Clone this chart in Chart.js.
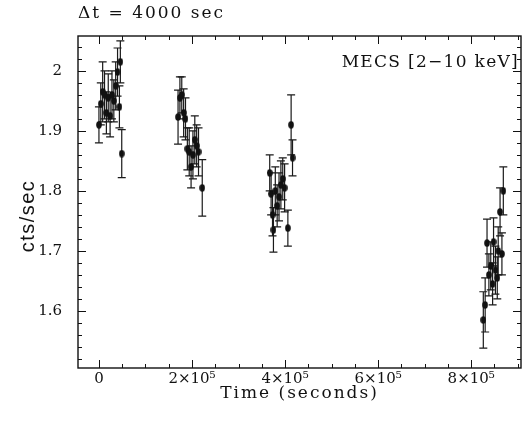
<!DOCTYPE html>
<html><head><meta charset="utf-8">
<script src="https://cdn.jsdelivr.net/npm/chart.js@4.4.1/dist/chart.umd.min.js"></script>
<style>html,body{margin:0;padding:0;background:#fff}#wrap{width:528px;height:421px;position:relative}</style>
</head><body><div id="wrap"><canvas id="c"></canvas></div>
<script>
// ---- data ----
const timeSec = [
  0, 4000, 8000, 12000, 16000, 20000, 24000, 28000, 32000, 36000, 40000, 44000, 46000, 49000,
  170000, 174000, 178000, 182000, 186000, 190000, 194000, 198000, 202000, 206000, 210000, 214000, 222000,
  367000, 370000, 373000, 375000, 379000, 383000, 387000, 391000, 395000, 399000, 406000, 413000, 416000,
  826000, 830000, 834000, 838000, 842000, 846000, 848000, 852000, 856000, 858000, 862000, 866000, 869000
];
const rate = [
  1.910, 1.945, 1.965, 1.960, 1.930, 1.955, 1.925, 1.960, 1.950, 1.975, 1.998, 1.940, 2.015, 1.862,
  1.923, 1.955, 1.960, 1.930, 1.920, 1.870, 1.865, 1.840, 1.860, 1.885, 1.875, 1.865, 1.805,
  1.830, 1.795, 1.760, 1.735, 1.800, 1.775, 1.790, 1.810, 1.820, 1.805, 1.738, 1.910, 1.855,
  1.585, 1.610, 1.713, 1.660, 1.675, 1.645, 1.715, 1.668, 1.655, 1.700, 1.765, 1.695, 1.800
];
const rateErr = [
  0.030, 0.035, 0.050, 0.040, 0.035, 0.040, 0.035, 0.040, 0.035, 0.040, 0.040, 0.035, 0.035, 0.040,
  0.045, 0.035, 0.030, 0.040, 0.035, 0.035, 0.040, 0.035, 0.040, 0.040, 0.035, 0.040, 0.047,
  0.030, 0.035, 0.035, 0.037, 0.040, 0.035, 0.040, 0.040, 0.035, 0.040, 0.030, 0.050, 0.030,
  0.047, 0.045, 0.040, 0.035, 0.040, 0.035, 0.040, 0.040, 0.035, 0.040, 0.040, 0.035, 0.040
];
const xMajorTicks = [0, 200000, 400000, 600000, 800000];
const xTickLabels = ['0', '2×10⁵', '4×10⁵', '6×10⁵', '8×10⁵'];
const yMajorTicks = [1.6, 1.7, 1.8, 1.9, 2.0];
const yTickLabels = ['1.6', '1.7', '1.8', '1.9', '2'];
const xMinorStep = 50000;
const yMinorStep = 0.02;
const titleText = 'Δt = 4000 sec';
const insetText = 'MECS [2−10 keV]';
const xAxisTitle = 'Time (seconds)';
const yAxisTitle = 'cts/sec';

const SERIF = '"DejaVu Serif", serif';

const points = timeSec.map((t, i) => ({x: t, y: rate[i], e: rateErr[i]}));

// filled, slightly tall ellipse used as the marker
const marker = document.createElement('canvas');
marker.width = 6; marker.height = 8;
(function () {
  const m = marker.getContext('2d');
  m.fillStyle = '#111';
  m.beginPath();
  m.ellipse(3, 4, 2.8, 3.7, 0, 0, Math.PI * 2);
  m.fill();
})();

const decorPlugin = {
  id: 'decor',
  beforeDatasetsDraw(chart) {
    const {ctx} = chart;
    const xs = chart.scales.x, ys = chart.scales.y;
    ctx.save();
    ctx.strokeStyle = '#1a1a1a';
    ctx.lineWidth = 1.2;
    const cap = 4;
    points.forEach(p => {
      const px = xs.getPixelForValue(p.x);
      const y1 = ys.getPixelForValue(p.y - p.e);
      const y2 = ys.getPixelForValue(p.y + p.e);
      ctx.beginPath();
      ctx.moveTo(px, y1); ctx.lineTo(px, y2);
      ctx.moveTo(px - cap, y1); ctx.lineTo(px + cap, y1);
      ctx.moveTo(px - cap, y2); ctx.lineTo(px + cap, y2);
      ctx.stroke();
    });
    ctx.restore();
  },
  afterDraw(chart) {
    const {ctx, chartArea: a} = chart;
    const xs = chart.scales.x, ys = chart.scales.y;
    ctx.save();
    ctx.strokeStyle = '#111';
    ctx.lineWidth = 1.4;
    ctx.strokeRect(a.left, a.top, a.right - a.left, a.bottom - a.top);
    ctx.lineWidth = 1;
    const maj = 8, mnr = 4;
    ctx.beginPath();
    for (let v = Math.ceil(xs.min / xMinorStep) * xMinorStep; v <= xs.max; v += xMinorStep) {
      const px = Math.round(xs.getPixelForValue(v)) + 0.5;
      const len = xMajorTicks.some(m => Math.abs(m - v) < 1) ? maj : mnr;
      ctx.moveTo(px, a.bottom); ctx.lineTo(px, a.bottom - len);
      ctx.moveTo(px, a.top); ctx.lineTo(px, a.top + len);
    }
    for (let v = Math.ceil(ys.min / yMinorStep - 1e-6) * yMinorStep; v <= ys.max + 1e-9; v += yMinorStep) {
      const py = Math.round(ys.getPixelForValue(v)) + 0.5;
      const len = yMajorTicks.some(m => Math.abs(m - v) < 1e-6) ? maj : mnr;
      ctx.moveTo(a.left, py); ctx.lineTo(a.left + len, py);
      ctx.moveTo(a.right, py); ctx.lineTo(a.right - len, py);
    }
    ctx.stroke();

    ctx.fillStyle = '#111';
    ctx.textBaseline = 'middle';
    ctx.font = '17px ' + SERIF;
    ctx.letterSpacing = '2px';
    ctx.textAlign = 'left';
    ctx.fillText(titleText, a.left, 14);
    ctx.letterSpacing = '1.3px';
    ctx.textAlign = 'right';
    ctx.fillText(insetText, a.right - 2, 63);
    ctx.letterSpacing = '2px';
    ctx.textAlign = 'center';
    ctx.fillText(xAxisTitle, (a.left + a.right) / 2, 394);
    ctx.save();
    ctx.translate(28, 216);
    ctx.rotate(-Math.PI / 2);
    ctx.font = '20px "Liberation Sans", Arial, sans-serif';
    ctx.letterSpacing = '1.5px';
    ctx.fillText(yAxisTitle, 0, 0);
    ctx.restore();
    ctx.restore();
  }
};

new Chart(document.getElementById('c'), {
  type: 'scatter',
  data: {
    datasets: [{
      data: points,
      showLine: false,
      pointStyle: marker,
      pointRadius: 3,
      pointHoverRadius: 3,
      backgroundColor: '#111',
      borderWidth: 0
    }]
  },
  options: {
    responsive: true,
    maintainAspectRatio: false,
    animation: false,
    events: [],
    layout: {padding: {top: 36, right: 7, left: 0, bottom: 0}},
    plugins: {legend: {display: false}, tooltip: {enabled: false}},
    scales: {
      x: {
        type: 'linear',
        min: -45000, max: 907000,
        grid: {display: false, drawTicks: false},
        border: {display: false},
        afterBuildTicks: s => { s.ticks = xMajorTicks.map(v => ({value: v})); },
        afterFit: s => { s.height = 53; },
        ticks: {
          autoSkip: false, maxRotation: 0, padding: 2,
          color: '#111',
          font: {family: SERIF, size: 15},
          callback: (v) => xTickLabels[xMajorTicks.indexOf(v)]
        }
      },
      y: {
        type: 'linear',
        min: 1.505, max: 2.058,
        grid: {display: false, drawTicks: false},
        border: {display: false},
        afterBuildTicks: s => { s.ticks = yMajorTicks.map(v => ({value: v})); },
        afterFit: s => { s.width = 78; },
        ticks: {
          autoSkip: false, padding: 16,
          color: '#111',
          font: {family: SERIF, size: 15},
          callback: (v) => yTickLabels[yMajorTicks.findIndex(m => Math.abs(m - v) < 1e-6)]
        }
      }
    }
  },
  plugins: [decorPlugin]
});
</script>
</body></html>
